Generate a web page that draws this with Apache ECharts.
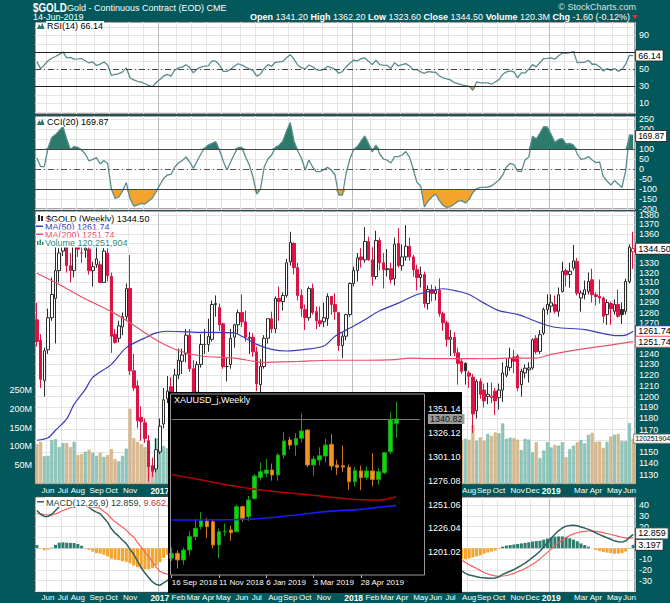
<!DOCTYPE html>
<html>
<head>
<meta charset="utf-8">
<title>$GOLD weekly</title>
<script src="https://cdn.jsdelivr.net/npm/echarts@6.0.0/dist/echarts.min.js"></script>
<style>
html,body{margin:0;padding:0;background:#02585a;}
#chart{width:670px;height:603px;}
</style>
</head>
<body>
<div id="chart"></div>
<script>
// ================= DATA =================
const firstWeek = '2016-05-20';
const weekCount = 161;
const monthTickLabels = ['Jun','Jul','Aug','Sep','Oct','Nov','','2017','Feb','Mar','Apr','May','Jun','Jul','Aug','Sep','Oct','Nov','','2018','Feb','Mar','Apr','May','Jun','Jul','Aug','Sep','Oct','Nov','Dec','2019','','Mar','Apr','May','Jun'];

const opens = [
1273,1253,1215,1244,1275,1294,1322,1342,1365,1327,
1322,1358,1340,1343,1344,1322,1328,1328,1310,1340,
1316,1259,1255,1266,1276,1304,1224,1210,1181,1176,
1160,1138,1135,1150,1175,1198,1209,1190,1220,1233,
1240,1258,1226,1204,1230,1249,1249,1254,1288,1285,
1269,1228,1230,1256,1268,1280,1271,1255,1256,1242,
1211,1228,1255,1274,1264,1294,1291,1297,1331,1350,
1325,1297,1283,1275,1304,1281,1272,1271,1274,1296,
1288,1280,1248,1257,1278,1309,1322,1336,1333,1352,
1333,1316,1353,1330,1323,1324,1314,1350,1327,1336,
1347,1336,1323,1315,1318,1289,1303,1299,1302,1279,
1270,1254,1256,1241,1233,1231,1222,1218,1187,1214,
1206,1200,1199,1205,1199,1206,1220,1227,1237,1238,
1211,1222,1225,1226.7,1255,1242.4,1260,1283,1286.4,1288,
1281.3,1301,1322,1318,1324.6,1331.4,1294.4,1297.7,1301,1312.7,
1297.7,1296,1294.4,1278,1289,1281.3,1288,1283,1281.3,1311,
1341.2];
const highs = [
1290,1259,1246,1284,1315,1362,1345,1377,1375,1340,
1358,1375,1353,1359,1347,1331,1356,1332,1345,1345,
1320,1264,1272,1280,1309,1338,1240,1215,1191,1180,
1165,1145,1162,1180,1208,1219,1218,1226,1245,1245,
1264,1264,1234,1233,1259,1264,1274,1292,1297,1289,
1270,1237,1264,1269,1283,1298,1282,1261,1260,1247,
1235,1258,1274,1281,1296,1306,1300,1334,1362,1351,
1330,1303,1288,1306,1309,1286,1286,1290,1299,1296,
1299,1280,1260,1279,1310,1326,1340,1345,1367,1357,
1346,1363,1356,1340,1344,1330,1356,1366,1349,1369,
1356,1338,1328,1326,1321,1307,1308,1306,1314,1281,
1272,1263,1261,1246,1236,1232,1224,1221,1216,1217,
1212,1213,1213,1208,1212,1232,1236,1246,1244,1240,
1226,1230,1232,1255,1258,1263,1285,1298,1298,1297,
1305,1331,1324,1330,1348.5,1335,1302,1312,1320,1324,
1300,1313,1296,1293,1291,1293,1303,1290,1314,1349,
1362.2];
const lows = [
1247,1208,1200,1240,1272,1250,1310,1337,1320,1310,
1315,1336,1330,1335,1318,1306,1325,1311,1310,1311,
1241,1250,1251,1258,1273,1220,1205,1171,1160,1158,
1124,1128,1132,1148,1171,1194,1180,1188,1216,1221,
1232,1223,1195,1196,1227,1240,1242,1252,1276,1262,
1226,1214,1226,1246,1259,1266,1252,1240,1237,1205,
1204,1226,1250,1260,1260,1272,1282,1295,1327,1318,
1292,1276,1263,1272,1278,1264,1266,1266,1267,1278,
1273,1243,1236,1253,1276,1306,1311,1325,1330,1332,
1307,1313,1322,1304,1316,1309,1307,1325,1322,1332,
1332,1316,1302,1305,1285,1283,1291,1292,1276,1262,
1247,1238,1238,1211,1221,1211,1208,1167,1180,1198,
1190,1193,1194,1183,1188,1195,1218,1224,1222,1205,
1200,1217,1213,1225,1240,1240,1258,1278,1280,1279,
1276,1300,1306,1305,1322,1297,1281,1293,1298,1290,
1287,1289,1270,1268,1268,1278,1275,1269,1278,1309,
1323.6];
const closes = [
1252,1216,1243,1275,1298,1322,1340,1366,1327,1322,
1357,1344,1340,1345,1322,1326,1334,1310,1342,1317,
1257,1251,1267,1276,1304,1224,1208,1178,1177,1162,
1137,1133,1152,1173,1197,1205,1191,1220,1234,1239,
1258,1226,1202,1230,1249,1249,1257,1288,1289,1268,
1228,1228,1255,1268,1280,1271,1256,1256,1242,1212,
1228,1255,1274,1264,1294,1291,1297,1330,1351,1325,
1297,1284,1275,1304,1280,1272,1269,1275,1296,1288,
1281,1248,1257,1278,1309,1322,1335,1333,1352,1333,
1316,1353,1330,1323,1324,1313,1349,1327,1336,1347,
1336,1323,1315,1318,1289,1303,1299,1302,1279,1270,
1254,1256,1241,1231,1223.5,1224,1219,1184,1214,1202,
1196,1202,1200.5,1196,1206,1222,1228,1236,1233,1208,
1223.5,1226.5,1226.7,1253.5,1242,1258.5,1283,1288,1289.7,1281.3,
1297.7,1321.4,1317.7,1321.4,1332,1299.3,1299.5,1302.7,1311,1297.7,
1296,1294.4,1276.5,1290,1284,1288,1276.5,1278,1311,1346.1,
1344.5];
// weekly volume, millions
const volumes = [
106,112,74,75,117,119,98,109,109,98,
112,77,80,86,91,83,75,83,72,77,
93,66,60,75,94,200,122,112,106,98,
51,48,122,125,101,95,110,120,105,95,
130,125,115,120,140,105,110,150,120,115,
140,100,110,95,120,125,105,90,100,130,
110,105,95,90,120,115,85,130,155,120,
115,100,95,110,100,90,85,95,110,90,
100,150,120,70,80,110,115,105,140,125,
130,110,95,105,100,95,120,110,100,115,
105,95,100,95,125,110,90,95,120,110,
115,90,105,110,118,120,117,157,115,124,
115,133,128,137,135,161,120,123,122,118,
90,120,118,84,111,69,89,111,97,104,
102,111,71,93,102,111,117,108,131,136,
112,113,96,112,126,131,133,114,114,162,
120.251904];
// moving averages: [week index, value]
const ma50Pts = [[0,1160.4],[3,1162.6],[5,1169.3],[8,1179.6],[10,1193],[13,1206.7],[15,1217.9],[20,1230.1],[24,1246],[29,1255.4],[32,1260.2],[35,1261.8],[44,1260.8],[53,1260.2],[55,1256.9],[59,1249.1],[63,1244.4],[67,1242.8],[72,1244.4],[77,1247.5],[80,1256.9],[84,1264.9],[88,1273],[92,1281.9],[97,1289.4],[102,1297.9],[105,1300.8],[109,1303.7],[113,1301.2],[116,1297.9],[120,1289.4],[124,1281.9],[129,1278.2],[135,1270],[139,1265.7],[147,1263.4],[156,1257.5],[158,1258],[160,1261.74]];
const ma200Pts = [[0,1319.4],[6,1308],[12,1295.5],[20,1281],[25,1270],[31,1255.5],[37,1244.5],[44,1238],[53,1236],[61,1232],[70,1232.8],[79,1234],[88,1234],[96,1234.5],[100,1236],[105,1235.6],[114,1235.5],[120,1235.4],[129,1236],[134,1236],[138,1239.5],[147,1245],[156,1249.6],[160,1251.74]];
const rsi = [
59,50.8,55,60,63,65,67.5,70.4,63.5,64,
62,62.2,62.6,60,57.4,58.6,54.5,56,58.6,55,
42.9,44,44.9,46.9,51.6,40,37.5,35.9,34.8,33,
31,29.6,34.5,38,42,44.1,42,49,51.6,52.5,
55.3,52,45.7,50.5,52.5,53.6,54,59.8,59.5,55,
47.6,47.6,50,53.5,56.5,55,52.5,50.5,48.5,42,
44.5,51,55.5,53.5,58.2,58.8,59.4,63.5,67.2,62,
54.7,52,50.5,55,53,49.6,48.6,50,53.3,52,
50,45.3,47.3,53,57,60.6,59.8,62.5,63.3,59.4,
55.5,60.6,55.5,55,54.7,51,57.8,53.9,55.5,56.7,
53.9,49.6,49.6,47,45.3,47.3,46.8,46.5,42.2,40,
38.6,37.5,34.3,33,31.6,30.8,30,25.3,35.1,34,
34,34,32.4,35,37.8,44.1,46.9,48,47,39.8,
45.7,45.7,50,55.5,52.8,58,62.6,62.8,63.3,61.8,
66,69.2,68.8,69.5,70.8,57.8,58,58.2,60.6,55.9,
56,53,48,50.8,48.8,50.8,47.6,50,56,66.4,
66.14];
const cci = [
55,12,12,105,158,172,192,212,150,98,
112,108,95,75,40,48,57,25,42,28,
-100,-147,-140,-110,-68,-147,-185,-180,-172,-175,
-160,-145,-113,-80,-47,-30,-27,10,30,42,
60,35,3,40,75,105,120,128,137,95,
40,-5,35,75,108,108,60,20,-40,-125,
-100,10,50,70,108,118,140,190,232,140,
90,55,-5,45,10,-13,-13,-3,8,-5,
-30,-130,-130,-20,50,98,112,140,165,128,
85,120,75,50,44,30,62,62,70,87,
58,0,-68,-85,-190,-160,-140,-125,-158,-182,
-192,-188,-175,-162,-158,-170,-152,-118,-98,-92,
-92,-90,-85,-70,-55,-30,10,28,22,-10,
-13,45,60,165,150,180,212,210,172,133,
148,152,125,128,120,75,48,52,62,45,
32,35,-38,-60,-80,-58,-75,-92,-8,170,
169.87];
const macd = [
35,31.5,29.5,29.5,31.5,35,38.5,40.5,41.5,42.5,
43.5,43.5,42.5,40.5,38,35.2,33.5,32,28,24,
18,14,11,7.5,4.3,-1,-5.5,-12,-18,-23,
-27,-31.2,-33.5,-34.3,-32,-30,-27,-23,-19,-15,
-11,-9.5,-9.5,-8,-5.5,-3,-1,2.5,5,5.5,
3,0.5,0,0.5,1.5,2,1.5,0.5,-2.5,-3.5,
-3,-1,1.5,3,5.5,7.5,9.5,13,17,18.5,
17.5,15.5,13,12,10,8,6,5,5,4.5,
2,-1,-2,-1,2,5,8.5,11,14,15,
14.5,15.5,15,14,13,11.5,12,12,12.5,13,
12,10,7.5,6,3,1,-0.5,-2.5,-5,-8,
-11,-13.5,-16,-18.5,-21,-23.2,-24.8,-25.5,-26.3,-27,
-27.4,-27.8,-27.8,-27.6,-26.4,-24.2,-22.7,-21.3,-19.7,-17.8,
-15.9,-13.7,-11.3,-8.5,-5.8,-2.8,1.2,5.2,9.2,13,
16.2,18.8,20.5,21,21.3,20.9,19.7,18.7,17.5,16,
14.2,12.7,11.2,9.7,8.3,6.9,6,5.7,6.7,9.9,
12.859];
const macdSignal = [
32,32,31.3,30.8,31,31.8,33.3,35,36.3,37.5,
38.6,39.5,40.2,40.3,39.5,38.2,38,37,34,31.5,
27.6,24.5,22,19.5,16.8,13,10.5,5.5,1,-3.5,
-7.5,-12.7,-17.5,-21.3,-23,-24,-24.5,-24.2,-23.2,-21.6,
-19.5,-17.5,-16,-14.4,-12.6,-10.7,-8.8,-6.5,-4.2,-2.3,
-1.2,-0.8,-0.6,-0.4,0,0.4,0.6,0.6,0,-0.7,
-1.2,-1.2,-0.6,0.1,1.2,2.5,3.9,5.7,8,10,
11.5,12.3,12.4,12.3,11.8,11.1,10.1,9.1,8.3,7.5,
6.4,4.9,3.5,2.6,2.5,3,4.1,5.5,7.2,8.8,
9.9,11,11.8,12.2,12.4,12.2,12.2,12.2,12.2,12.4,
12.3,11.8,11,10,8.6,7.1,5.6,4,2.2,0.2,
-2,-4.3,-6.6,-9,-11,-13.2,-15.3,-17,-18.8,-20.5,
-22.4,-23.8,-24.8,-25.6,-25.9,-25.7,-25.2,-24.3,-23.2,-21.8,
-20.4,-18.7,-16.8,-14.8,-12.5,-9.8,-6.8,-3.8,-0.8,2.2,
5.2,7.8,10,11.8,13.3,14.4,15.2,15.7,16,16,
15.7,15.2,14.5,13.7,12.8,11.9,11,10.2,9.7,9.6,
9.662];
const macdHist = [
3,-0.5,-1.8,-1.3,0.5,3.2,5.2,5.5,5.2,5,
4.9,4,2.3,0.2,-1.5,-3,-4.5,-5,-6,-7.5,
-9.6,-10.5,-11,-12,-12.5,-14,-16,-17.5,-19,-19.5,
-19.5,-18.5,-16,-13,-9,-6,-2.5,1.2,4.2,6.6,
8.5,8,6.5,6.4,7.1,7.7,7.8,9,9.2,7.8,
4.2,1.3,0.6,0.9,1.5,1.6,0.9,-0.1,-2.5,-2.8,
-1.8,0.2,2.1,2.9,4.3,5,5.6,7.3,9,8.5,
6,3.2,0.6,-0.3,-1.8,-3.1,-4.1,-4.1,-3.3,-3,
-4.4,-5.9,-5.5,-3.6,-0.5,2,4.4,5.5,6.8,6.2,
4.6,4.5,3.2,1.8,0.6,-0.7,-0.2,-0.2,0.3,0.6,
-0.3,-1.8,-3.5,-4,-5.6,-6.1,-6.1,-6.5,-7.2,-8.2,
-9,-9.2,-9.4,-9.5,-10,-10,-9.5,-8.5,-7.5,-6.5,
-5,-4,-3,-2,-0.5,1.5,2.5,3,3.5,4,
4.5,5,5.5,6.3,6.7,7,8,9,10,10.8,
11,11,10.5,9.2,8,6.5,4.5,3,1.5,0,
-1.5,-2.5,-3.3,-4,-4.5,-5,-5,-4.5,-3,0.3,
3.197];
// tick labels (grid lines at every step; labels hidden where the value tags sit)
const rsiGrid = [0,10,20,30,40,50,60,70,80,90,100];
const rsiTicks = [10,30,50,90];
const cciGrid = [-200,-150,-100,-50,0,50,100,150,200,250];
const cciTicks = [-200,-150,-100,-50,0,50,100,200,250];
const priceGrid = [1130,1140,1150,1160,1170,1180,1190,1200,1210,1220,1230,1240,1250,1260,1270,1280,1290,1300,1310,1320,1330,1340,1350,1360,1370,1380];
const priceTicks = [1130,1140,1150,1170,1180,1190,1200,1210,1220,1230,1240,1270,1280,1290,1300,1310,1320,1330,1360,1370,1380];
const volumeTicks = [50,100,150,200,250];
const macdGrid = [-40,-30,-20,-10,0,10,20,30,40];
const macdTicks = [-30,-20,-10,20,30,40];

// ---- inset (XAUUSD_j weekly) ----
const insetTickLabels = ['16 Sep 2018','11 Nov 2018','6 Jan 2019','3 Mar 2019','28 Apr 2019'];
const insetPriceTicks = [1201.02,1226.04,1251.06,1276.08,1301.10,1326.12,1351.14];
const insetOpen = [1194.7,1199.9,1193,1203.4,1217.4,1227.9,1233.8,1233.1,1208.7,1222.4,1224.4,1222.6,1248.8,1238.3,1257.5,1279.5,1283.7,1287.2,1282,1302.9,1318.7,1313.4,1320.4,1329.1,1292.5,1297.7,1301.9,1314.1,1292.5,1291.8,1290,1275,1286.2,1279.5,1286.2,1277.4,1284.4,1306.4,1336.1];
const insetClose = [1199.9,1193,1203.4,1217.4,1226.1,1234.1,1227.9,1208.7,1222.6,1222.9,1221.6,1248.8,1236.6,1255.8,1280.9,1285.5,1287.2,1282,1302.9,1317.6,1313.4,1320.4,1328.1,1292.5,1298.7,1302.2,1313.4,1291.4,1290,1290.3,1275,1286.5,1279.2,1286.2,1277.4,1285.5,1305.4,1340.3,1340.82];
const insetHigh = [1206,1203,1206,1223,1236,1243,1237,1236,1226,1231,1229,1251,1250,1260,1283,1295,1299,1294,1305,1327,1322,1326,1346.5,1330,1302,1311,1320,1325,1298,1313,1293,1290,1292,1291,1305,1289,1306,1348,1359];
const insetLow = [1192,1184,1188,1198,1214,1225,1216,1205,1195,1218,1213,1222,1233,1234,1256,1276,1280,1276,1276,1299,1309,1302,1316,1290,1281,1292,1295,1287,1282,1285,1266,1270,1266,1277,1270,1272,1283,1304,1321];
const insetMaRed = [[0,1282.5],[4,1278],[9,1272],[15,1266.3],[21,1262.6],[26,1259.5],[30,1256.8],[33,1255.8],[35,1255.5],[37,1257.5],[38,1259.3]];
const insetMaBlue = [[0,1234.9],[13,1235.6],[21,1240.1],[26,1243.6],[32,1246],[35,1248.1],[38,1250.2]];
const insetSlots = 43;

// ================= BUILD =================
const FONT = '"Liberation Sans", Arial, sans-serif';
const dates = [];
{ const t0 = Date.parse(firstWeek + 'T00:00:00Z'); for (let i = 0; i < weekCount; i++) dates.push(new Date(t0 + i * 7 * 864e5).toISOString().slice(0, 10)); }
const monthOf = s => new Date(Date.parse(s + 'T00:00:00Z') - 4 * 864e5).getUTCMonth();
const monthStarts = [];
for (let i = 1; i < dates.length; i++) if (monthOf(dates[i]) !== monthOf(dates[i - 1])) monthStarts.push(i);
const monthLabelAt = {}; monthStarts.forEach((idx, k) => { monthLabelAt[idx] = monthTickLabels[k] || ''; });
const monthSet = new Set(monthStarts);
const yearSet = new Set(monthStarts.filter(i => monthOf(dates[i]) === 0));
const N = closes.length, L = N - 1;

const RED = '#dc1446', DARK = '#2a2a2a';
const candleData = opens.map((o, i) => {
  const c = closes[i];
  const up = i === 0 ? c >= o : c >= closes[i - 1];
  const col = up ? DARK : RED;
  const fill = c >= o ? '#ffffff' : col;
  return { value: [o, c, lows[i], highs[i]], itemStyle: { color: fill, color0: fill, borderColor: col, borderColor0: col } };
});
const volData = volumes.map((v, i) => {
  const up = i === 0 ? closes[i] >= opens[i] : closes[i] >= closes[i - 1];
  return { value: v, itemStyle: { color: up ? '#8fc7bc' : '#d9ba91', borderColor: up ? '#72b0a3' : '#c9a676', borderWidth: 0.5 } };
});
const histData = macdHist.map(v => ({ value: v, itemStyle: { color: v >= 0 ? '#2f7f70' : '#f4a42c' } }));
const insetData = insetOpen.map((o, i) => {
  const bull = insetClose[i] >= o;
  return { value: [o, insetClose[i], insetLow[i], insetHigh[i]], itemStyle: { color: bull ? '#00e000' : '#f7931e', color0: bull ? '#00e000' : '#f7931e', borderColor: bull ? '#1f9a1f' : '#c8761a', borderColor0: bull ? '#1f9a1f' : '#c8761a' } };
});
const insetCats = Array.from({ length: insetSlots }, (_, i) => String(i));

const fmt2 = v => v.toFixed(2);
const tag = (text, border, color, offset, size) => ({ show: true, formatter: () => text, color: color || '#000', backgroundColor: '#fff', borderColor: border, borderWidth: 1, padding: [1, 2, 0, 2], fontSize: size || 9, fontFamily: FONT, distance: 3, offset: offset || [0, 0] });

function monthAxis(gi, showLabels, margin) {
  return {
    type: 'category', gridIndex: gi, data: dates, boundaryGap: true,
    axisLine: { show: false }, axisTick: { show: false },
    splitLine: { show: true, interval: (i) => monthSet.has(i) && !yearSet.has(i), lineStyle: { color: '#e4e4e4', width: 1 } },
    axisLabel: {
      show: showLabels, interval: (i) => monthSet.has(i), margin: margin || 3,
      showMinLabel: true, showMaxLabel: true, hideOverlap: false,
      formatter: (v, i) => { const t = monthLabelAt[i] || ''; return /^\d{4}$/.test(t) ? '{y|' + t + '}' : t; },
      color: '#fff', fontSize: 8, fontFamily: FONT,
      rich: { y: { fontWeight: 'bold', color: '#fff', fontSize: 8.5, fontFamily: FONT } }
    }
  };
}
function yearAxis(gi) {
  return { type: 'category', gridIndex: gi, data: dates, boundaryGap: true,
    axisLine: { show: false }, axisTick: { show: false }, axisLabel: { show: false },
    splitLine: { show: true, interval: (i) => yearSet.has(i), lineStyle: { color: '#bcbcbc', width: 1 } } };
}
function valueAxis(gi, min, max, gridVals, labelVals, extra) {
  return Object.assign({
    type: 'value', gridIndex: gi, position: 'right', min, max, scale: true,
    axisLine: { show: false },
    axisTick: { show: false, customValues: gridVals },
    axisLabel: { customValues: labelVals, formatter: (v) => String(v), color: '#fff', fontSize: 9, fontFamily: FONT, margin: 4 },
    splitLine: { show: true, lineStyle: { color: '#e4e4e4', width: 1 } }
  }, extra || {});
}

const dashDot = [6, 3, 1, 3];
const gridBase = { left: 35, width: 600, show: true, backgroundColor: '#ffffff', borderColor: '#4a4a4a', borderWidth: 1 };

const legendFont = '9px ' + FONT;
const lastRSI = rsi[L], lastCCI = cci[L];
const ma50Last = ma50Pts[ma50Pts.length - 1][1], ma200Last = ma200Pts[ma200Pts.length - 1][1];
const volLastUnits = Math.round(volumes[L] * 1e6);
const chg = closes[L] - closes[L - 1];
const chgPct = chg / closes[L - 1] * 100;

function legendText(x, y, text, fill, extra) {
  return Object.assign({ type: 'text', x, y, z: 30, style: { text, fill: fill || '#000', font: legendFont, verticalAlign: 'middle', align: 'left', backgroundColor: '#fff', padding: [1, 1, 0, 1] } }, extra || {});
}
function mountain(y) {
  return { type: 'polygon', z: 31, shape: { points: [[37, y + 3], [39, y - 2], [40.5, y + 0.5], [42.5, y - 3], [44.5, y + 3]] }, style: { fill: '#2b7a6b' } };
}
const macdLegend = '{a|MACD(12,26,9) ' + macd[L].toFixed(3) + ',} {b|' + macdSignal[L].toFixed(3) + ',} {c|' + macdHist[L].toFixed(3) + '}';

const graphics = [
  // header
  { type: 'text', x: 33, y: 8, scaleX: 0.82, style: { text: '$GOLD', fill: '#fff', font: 'bold 12px ' + FONT, verticalAlign: 'middle' } },
  { type: 'text', x: 67, y: 8, style: { text: 'Gold - Continuous Contract (EOD) CME', fill: '#fff', font: '9px ' + FONT, verticalAlign: 'middle' } },
  { type: 'text', x: 33, y: 17, style: { text: dates[L].slice(8, 10) + '-Jun-' + dates[L].slice(0, 4), fill: '#fff', font: '9px ' + FONT, verticalAlign: 'middle' } },
  { type: 'text', x: 630, y: 17, style: {
      text: '{b|Open} ' + fmt2(opens[L]) + ' {b|High} ' + fmt2(highs[L]) + ' {b|Low} ' + fmt2(lows[L]) + ' {b|Close} ' + fmt2(closes[L]) + ' {b|Volume} ' + volumes[L].toFixed(1) + 'M {b|Chg} ' + fmt2(chg) + ' (' + chgPct.toFixed(2) + '%)',
      fill: '#fff', font: '9px ' + FONT, verticalAlign: 'middle', align: 'right',
      rich: { b: { fontWeight: 'bold', fill: '#fff', color: '#fff', fontSize: 9, fontFamily: FONT } } } },
  { type: 'polygon', shape: { points: [[632, 15], [638, 15], [635, 19]] }, style: { fill: '#e8283c' } },
  { type: 'text', x: 636, y: 7, style: { text: '\u00A9 StockCharts.com', fill: '#d8e6e6', font: '9px ' + FONT, verticalAlign: 'middle', align: 'right' } },
  // RSI legend
  mountain(26), legendText(46, 26, 'RSI(14) ' + fmt2(lastRSI)),
  // CCI legend
  mountain(122), legendText(46, 122, 'CCI(20) ' + fmt2(lastCCI)),
  // price legends
  { type: 'rect', z: 31, shape: { x: 36, y: 214, width: 9, height: 9 }, style: { fill: '#fff' } },
  { type: 'rect', z: 32, shape: { x: 38, y: 215, width: 2, height: 6 }, style: { fill: '#222' } },
  { type: 'rect', z: 32, shape: { x: 41, y: 216, width: 2, height: 5 }, style: { fill: '#222' } },
  legendText(45, 218.5, '$GOLD (Weekly) ' + fmt2(closes[L])),
  { type: 'rect', z: 31, shape: { x: 36, y: 222, width: 8, height: 8 }, style: { fill: '#fff' } },
  { type: 'rect', z: 32, shape: { x: 36, y: 225.5, width: 7, height: 1.5 }, style: { fill: '#3b3bb5' } },
  legendText(44, 226.5, 'MA(50) ' + fmt2(ma50Last), '#3b3bb5'),
  { type: 'rect', z: 31, shape: { x: 36, y: 230, width: 8, height: 8 }, style: { fill: '#fff' } },
  { type: 'rect', z: 32, shape: { x: 36, y: 233.5, width: 7, height: 1.5 }, style: { fill: '#e8526a' } },
  legendText(44, 234.5, 'MA(200) ' + fmt2(ma200Last), '#e8526a'),
  { type: 'rect', z: 31, shape: { x: 36, y: 238, width: 8, height: 8 }, style: { fill: '#fff' } },
  { type: 'rect', z: 32, shape: { x: 37, y: 241, width: 1.5, height: 4 }, style: { fill: '#2f8a7a' } },
  { type: 'rect', z: 32, shape: { x: 39.5, y: 239.5, width: 1.5, height: 5.5 }, style: { fill: '#2f8a7a' } },
  { type: 'rect', z: 32, shape: { x: 42, y: 242, width: 1.5, height: 3 }, style: { fill: '#2f8a7a' } },
  legendText(44, 242.5, 'Volume ' + volLastUnits.toLocaleString('en-US'), '#2f8a7a'),
  // MACD legend
  { type: 'rect', z: 31, shape: { x: 36, y: 497.5, width: 9, height: 8 }, style: { fill: '#fff' } },
  { type: 'rect', z: 32, shape: { x: 37, y: 501, width: 7, height: 1.5 }, style: { fill: '#2f5f5f' } },
  legendText(45, 502, macdLegend, '#000', {
    style: { text: macdLegend, font: legendFont, verticalAlign: 'middle', backgroundColor: '#fff', padding: [1, 1, 0, 1],
      rich: { a: { fill: '#1f3f3f', color: '#1f3f3f', fontSize: 9, fontFamily: FONT }, b: { fill: '#e03030', color: '#e03030', fontSize: 9, fontFamily: FONT }, c: { fill: '#2f7f70', color: '#2f7f70', fontSize: 9, fontFamily: FONT } } } }),
  // inset box
  { type: 'rect', z: 50, shape: { x: 168, y: 392, width: 294, height: 201 }, style: { fill: '#000' } },
  { type: 'rect', z: 65, shape: { x: 170.5, y: 394, width: 254, height: 181 }, style: { fill: 'none', stroke: '#9a9a9a', lineWidth: 1 } },
  { type: 'text', z: 70, x: 174, y: 400, style: { text: 'XAUUSD_j,Weekly', fill: '#fff', font: '9px ' + FONT, verticalAlign: 'middle' } }
];

const insetLabelOn = (i) => i % 8 === 0 && i / 8 < insetTickLabels.length;

const option = {
  animation: false,
  backgroundColor: '#02585a',
  textStyle: { fontFamily: FONT },
  grid: [
    Object.assign({}, gridBase, { top: 22, height: 92 }),
    Object.assign({}, gridBase, { top: 116, height: 93 }),
    Object.assign({}, gridBase, { top: 211, height: 273 }),
    Object.assign({}, gridBase, { top: 497, height: 95 }),
    { left: 171.7, top: 394, width: 248.2, height: 181, show: false }
  ],
  xAxis: [
    monthAxis(0, false), monthAxis(1, false), monthAxis(2, true, 2), monthAxis(3, true, 1),
    { type: 'category', gridIndex: 4, data: insetCats, boundaryGap: false, z: 60,
      axisLine: { show: false },
      axisTick: { show: true, interval: insetLabelOn, length: 3, lineStyle: { color: '#bbb' } },
      splitLine: { show: false },
      axisLabel: { interval: insetLabelOn, showMinLabel: true, showMaxLabel: true, hideOverlap: false, formatter: (v, i) => insetTickLabels[Math.round(Number(v) / 8)] || '', align: 'left', color: '#fff', fontSize: 8, fontFamily: FONT, margin: 3 } },
    yearAxis(0), yearAxis(1), yearAxis(2), yearAxis(3)
  ],
  yAxis: [
    valueAxis(0, -2.6, 105.6, rsiGrid, rsiTicks),
    valueAxis(1, -200, 265, cciGrid, cciTicks),
    valueAxis(2, 1122, 1384, priceGrid, priceTicks, { type: 'log', logBase: 10, scale: false }),
    { type: 'value', gridIndex: 2, position: 'left', min: 0, max: 726,
      axisLine: { show: false }, axisTick: { show: false }, splitLine: { show: false },
      axisLabel: { customValues: volumeTicks, formatter: (v) => v + 'M', color: '#fff', fontSize: 9, fontFamily: FONT, margin: 3 } },
    valueAxis(3, -40.5, 47.5, macdGrid, macdTicks),
    { type: 'value', gridIndex: 4, position: 'right', min: 1177.2, max: 1366.9, z: 60,
      axisLine: { show: false }, axisTick: { show: false }, splitLine: { show: false },
      axisLabel: { customValues: insetPriceTicks, formatter: (v) => v.toFixed(2), color: '#fff', fontSize: 9, fontFamily: FONT, margin: 8 } }
  ],
  graphic: { elements: graphics },
  series: [
    // ---- RSI ----
    { type: 'line', xAxisIndex: 0, yAxisIndex: 0, data: rsi.map(v => Math.max(v, 70)), symbol: 'none', silent: true, z: 1,
      lineStyle: { width: 0, opacity: 0 }, areaStyle: { origin: 70, color: '#2b7a6b', opacity: 1 } },
    { type: 'line', xAxisIndex: 0, yAxisIndex: 0, data: rsi.map(v => Math.min(v, 30)), symbol: 'none', silent: true, z: 1,
      lineStyle: { width: 0, opacity: 0 }, areaStyle: { origin: 30, color: '#f4a42c', opacity: 1 } },
    { type: 'line', xAxisIndex: 0, yAxisIndex: 0, data: rsi, symbol: 'none', z: 3,
      lineStyle: { color: '#5b8c8c', width: 1.3 }, endLabel: tag(fmt2(lastRSI), '#333'),
      markLine: { silent: true, symbol: 'none', label: { show: false },
        data: [ { yAxis: 70, lineStyle: { color: '#222', width: 1, type: 'solid' } },
                { yAxis: 30, lineStyle: { color: '#222', width: 1, type: 'solid' } },
                { yAxis: 50, lineStyle: { color: '#444', width: 1, type: dashDot } } ] } },
    // ---- CCI ----
    { type: 'line', xAxisIndex: 1, yAxisIndex: 1, data: cci.map(v => Math.max(v, 100)), symbol: 'none', silent: true, z: 1,
      lineStyle: { width: 0, opacity: 0 }, areaStyle: { origin: 100, color: '#2b7a6b', opacity: 1 } },
    { type: 'line', xAxisIndex: 1, yAxisIndex: 1, data: cci.map(v => Math.min(v, -100)), symbol: 'none', silent: true, z: 1,
      lineStyle: { width: 0, opacity: 0 }, areaStyle: { origin: -100, color: '#f4a42c', opacity: 1 } },
    { type: 'line', xAxisIndex: 1, yAxisIndex: 1, data: cci, symbol: 'none', z: 3,
      lineStyle: { color: '#5b8c8c', width: 1.3 }, endLabel: tag(fmt2(lastCCI), '#333', '#000', [0, 1], 8.5),
      markLine: { silent: true, symbol: 'none', label: { show: false },
        data: [ { yAxis: 100, lineStyle: { color: '#444', width: 1, type: 'solid' } },
                { yAxis: -100, lineStyle: { color: '#444', width: 1, type: 'solid' } },
                { yAxis: 0, lineStyle: { color: '#555', width: 1, type: dashDot } } ] } },
    // ---- Price ----
    { type: 'bar', xAxisIndex: 2, yAxisIndex: 3, data: volData, barWidth: '82%', z: 1 },
    { type: 'candlestick', xAxisIndex: 2, yAxisIndex: 2, data: candleData, barWidth: 3, z: 3 },
    { type: 'line', xAxisIndex: 2, yAxisIndex: 2, data: ma50Pts, smooth: 0.3, symbol: 'none', z: 4,
      lineStyle: { color: '#3b3bb5', width: 1.2 }, endLabel: tag(fmt2(ma50Last), '#3b3bb5') },
    { type: 'line', xAxisIndex: 2, yAxisIndex: 2, data: ma200Pts, smooth: 0.3, symbol: 'none', z: 4,
      lineStyle: { color: '#e8526a', width: 1.2 }, endLabel: tag(fmt2(ma200Last), '#e8526a') },
    { type: 'line', xAxisIndex: 2, yAxisIndex: 2, data: closes, symbol: 'none', silent: true, z: 5,
      lineStyle: { opacity: 0, width: 0 }, endLabel: tag(fmt2(closes[L]), '#333') },
    { type: 'line', xAxisIndex: 2, yAxisIndex: 3, data: volumes, symbol: 'none', silent: true, z: 5,
      lineStyle: { opacity: 0, width: 0 }, endLabel: Object.assign(tag(String(volLastUnits), '#888', '#000', [0, 0], 7), { distance: 1, padding: [1, 1, 0, 1] }) },
    // ---- MACD ----
    { type: 'bar', xAxisIndex: 3, yAxisIndex: 4, data: histData, barWidth: '82%', z: 1 },
    { type: 'line', xAxisIndex: 3, yAxisIndex: 4, data: macdSignal, symbol: 'none', z: 3,
      lineStyle: { color: '#ff5a5a', width: 1.2 }, endLabel: tag(macdSignal[L].toFixed(3), '#ff5a5a', '#e03030', [0, 2]) },
    { type: 'line', xAxisIndex: 3, yAxisIndex: 4, data: macdHist, symbol: 'none', silent: true, z: 4,
      lineStyle: { opacity: 0, width: 0 }, endLabel: tag(macdHist[L].toFixed(3), '#333', '#000', [0, 0]) },
    { type: 'line', xAxisIndex: 3, yAxisIndex: 4, data: macd, symbol: 'none', z: 5,
      lineStyle: { color: '#2f5f5f', width: 1.5 }, endLabel: tag(macd[L].toFixed(3), '#2f5f5f', '#000', [0, -1]) },
    // ---- Inset ----
    { type: 'candlestick', xAxisIndex: 4, yAxisIndex: 5, data: insetData, barWidth: 4, z: 60, clip: false,
      markLine: { silent: true, symbol: 'none', z: 60,
        data: [{ yAxis: insetClose[insetClose.length - 1] }],
        lineStyle: { color: '#7a7a7a', width: 1, type: 'solid' },
        label: { show: true, position: 'end', formatter: () => fmt2(insetClose[insetClose.length - 1]), color: '#111', backgroundColor: '#9c9c9c', padding: [1, 2, 0, 2], fontSize: 9, fontFamily: FONT, distance: 8 } } },
    { type: 'line', xAxisIndex: 4, yAxisIndex: 5, data: insetMaRed, smooth: 0.3, symbol: 'none', z: 61,
      lineStyle: { color: '#b40000', width: 1.6 } },
    { type: 'line', xAxisIndex: 4, yAxisIndex: 5, data: insetMaBlue, smooth: 0.3, symbol: 'none', z: 61,
      lineStyle: { color: '#1a1aff', width: 1.6 } }
  ]
};

const chart = echarts.init(document.getElementById('chart'), null, { renderer: 'svg', width: 670, height: 603 });
chart.setOption(option);
</script>
</body>
</html>
